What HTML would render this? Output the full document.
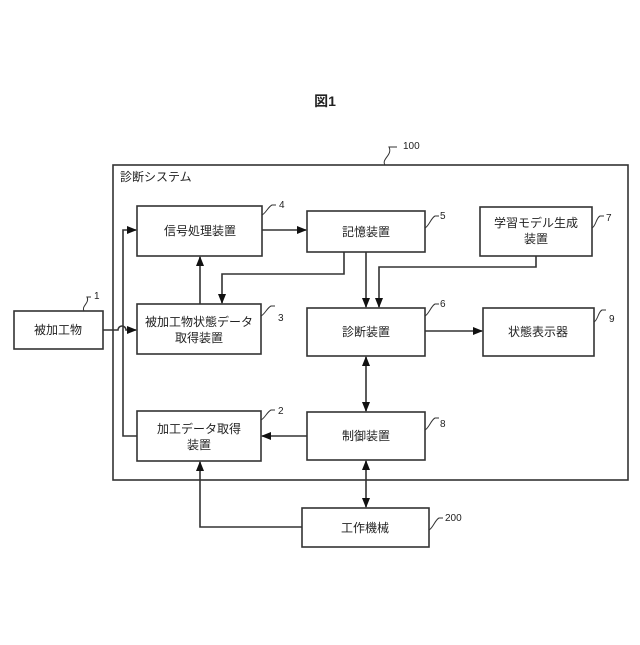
<!DOCTYPE html>
<html><head><meta charset="utf-8"><style>
body{margin:0;background:#fff}
svg text{font-family:"Liberation Sans","Noto Sans CJK JP",sans-serif;fill:#222}
</style></head><body>
<svg width="640" height="640" viewBox="0 0 640 640" xmlns="http://www.w3.org/2000/svg">
<defs><marker id="a" markerWidth="10" markerHeight="8" refX="9" refY="4" orient="auto-start-reverse" markerUnits="userSpaceOnUse"><path d="M0,0 L10,4 L0,8 z" fill="#111"/></marker></defs>
<text x="325" y="106" font-size="14" font-weight="bold" text-anchor="middle">図1</text>
<g fill="none" stroke="#333" stroke-width="1.6">
<rect x="113" y="165" width="515" height="315"/>
<rect x="14" y="311" width="89" height="38"/>
<rect x="137" y="206" width="125" height="50"/>
<rect x="137" y="304" width="124" height="50"/>
<rect x="137" y="411" width="124" height="50"/>
<rect x="307" y="211" width="118" height="41"/>
<rect x="480" y="207" width="112" height="49"/>
<rect x="307" y="308" width="118" height="48"/>
<rect x="483" y="308" width="111" height="48"/>
<rect x="307" y="412" width="118" height="48"/>
<rect x="302" y="508" width="127" height="39"/>
<path d="M385,165 c-4,-6 8,-10 4,-18 l8,0" stroke-width="1"/>
<path d="M103,330 L118,330 a4,4 0 0 1 8,0 L136,330" marker-end="url(#a)"/>
<path d="M137,436 L123,436 L123,230 L136,230" marker-end="url(#a)"/>
<path d="M200,304 L200,257" marker-end="url(#a)"/>
<path d="M262,230 L306,230" marker-end="url(#a)"/>
<path d="M344,252 L344,274 L222,274 L222,303" marker-end="url(#a)"/>
<path d="M366,252 L366,307" marker-end="url(#a)"/>
<path d="M536,256 L536,267 L379,267 L379,307" marker-end="url(#a)"/>
<path d="M425,331 L482,331" marker-end="url(#a)"/>
<path d="M366,357 L366,411" marker-start="url(#a)" marker-end="url(#a)"/>
<path d="M307,436 L262,436" marker-end="url(#a)"/>
<path d="M366,461 L366,507" marker-start="url(#a)" marker-end="url(#a)"/>
<path d="M302,527 L200,527 L200,462" marker-end="url(#a)"/>
<g stroke-width="1">
<path d="M84,311 c-3,-5 6,-8 3,-14 l4,0"/>
<path d="M262,215 c4,-2 6,-8 10,-10 l4,0"/>
<path d="M261,316 c4,-2 6,-8 10,-10 l4,0"/>
<path d="M261,420 c4,-2 6,-8 10,-10 l4,0"/>
<path d="M425,228 c4,-2 6,-10 10,-12 l4,0"/>
<path d="M425,316 c4,-2 6,-10 10,-12 l4,0"/>
<path d="M592,228 c4,-2 4,-10 8,-12 l4,0"/>
<path d="M594,322 c4,-2 4,-10 8,-12 l4,0"/>
<path d="M425,430 c4,-2 6,-10 10,-12 l4,0"/>
<path d="M429,530 c4,-2 6,-10 10,-12 l4,0"/>
</g>
</g>
<g font-size="10">
<text x="403" y="149">100</text><text x="94" y="299">1</text><text x="279" y="208">4</text>
<text x="278" y="321">3</text><text x="278" y="414">2</text><text x="440" y="219">5</text>
<text x="440" y="307">6</text><text x="606" y="221">7</text><text x="609" y="322">9</text>
<text x="440" y="427">8</text><text x="445" y="521">200</text>
</g>
<g font-size="12" text-anchor="middle">
<text x="120" y="181" text-anchor="start">診断システム</text>
<text x="58" y="334">被加工物</text>
<text x="200" y="235">信号処理装置</text>
<text x="199" y="326">被加工物状態データ</text><text x="199" y="342">取得装置</text>
<text x="199" y="433">加工データ取得</text><text x="199" y="449">装置</text>
<text x="366" y="236">記憶装置</text>
<text x="536" y="227">学習モデル生成</text><text x="536" y="243">装置</text>
<text x="366" y="336">診断装置</text>
<text x="538" y="336">状態表示器</text>
<text x="366" y="440">制御装置</text>
<text x="365" y="532">工作機械</text>
</g>
</svg>
</body></html>
